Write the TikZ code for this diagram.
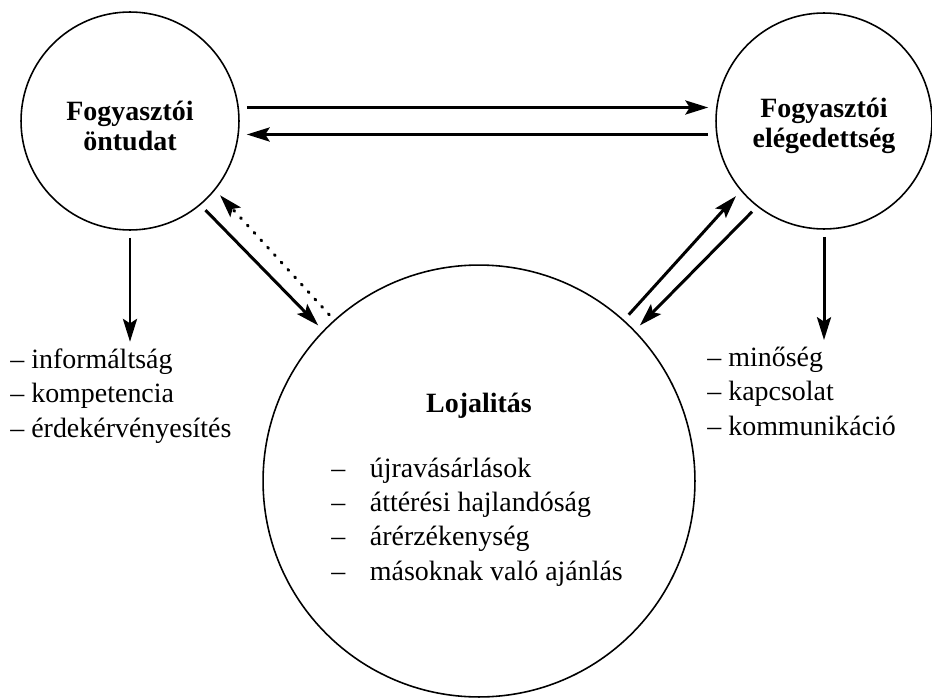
\documentclass[tikz,border=0pt]{standalone}
\usepackage{fontspec}
\setmainfont{Liberation Serif}
\usetikzlibrary{arrows.meta, positioning, calc}
\tikzset{
	>={Stealth[length=13pt, width=8pt, inset=2.5pt]},
	font = \fontsize{15.9}{19.4}\selectfont,
	bubble/.style={
		draw,
		circle,
		line width=.9pt,
		inner sep=0pt
	},
	title/.style={
		align=center,
		inner sep=0pt,
		font=\fontsize{15.9}{17}\selectfont\bfseries
	},
	edge/.style={
		->,
		line width=1.7pt,
		shorten <=4pt,
		shorten >=4pt
	},
	dotted edge/.style={
		edge,
		dash pattern=on 0.7pt off 5pt,
		line cap=round
	},
	itemlist/.style={
		align=left,
		inner sep=0pt
	}
}

\begin{document}
\begin{tikzpicture}[x=0.02cm, y=-0.02cm]
\useasboundingbox (0,0) rectangle (932,699);
% ---
% circles
% ---
\node[bubble, minimum size=4.36cm] at (130,121) (fo) {};
\node[bubble, minimum size=4.32cm] at (824,121) (fe) {};
\node[bubble, minimum size=8.64cm] at (479,481) (lo) {};

\node[title, yshift=-.1cm] at (fo) (fo-title) {Fogyasztói\\öntudat};
\node[title, yshift=-.1cm] at (fe) (fe-title) {Fogyasztói\\elégedettség};
\node[title, anchor=base] at (479,412) (lo-title) {Lojalitás};
% base of a multi-line node = its last line
\node[itemlist, anchor=base west] at (331,580) (lo-items)
	{–\hspace{14pt}újravásárlások\\
	 –\hspace{14pt}áttérési hajlandóság\\
	 –\hspace{14pt}árérzékenység\\
	 –\hspace{14pt}másoknak való ajánlás};

% ---
% lists below the small circles
% ---
\node[itemlist, anchor=base west] at (10,437) (fo-items)
	{– informáltság\\ – kompetencia\\ – érdekérvényesítés};
\node[itemlist, anchor=base west] at (707,435) (fe-items)
	{– minőség\\ – kapcsolat\\ – kommunikáció};

% ---
% arrows
% ---
\draw[edge] ([yshift=.27cm]fo.east) -- ([yshift=.27cm]fo.east -| fe.west);
\draw[edge] ([yshift=-.27cm]fe.west) -- ([yshift=-.27cm]fe.west -| fo.east);

\draw[edge] (fo.south) -- (fo.south |- fo-items.north);
\draw[edge] (fe.south) -- (fe.south |- fe-items.north);

\draw[edge] (fo.-50) -- (lo.136);
\draw[dotted edge] (lo.132) -- (fo.-39);
\draw[edge] (lo.48) -- (fe.-140);
\draw[edge] (fe.-128) -- (lo.44);
\end{tikzpicture}
\end{document}
